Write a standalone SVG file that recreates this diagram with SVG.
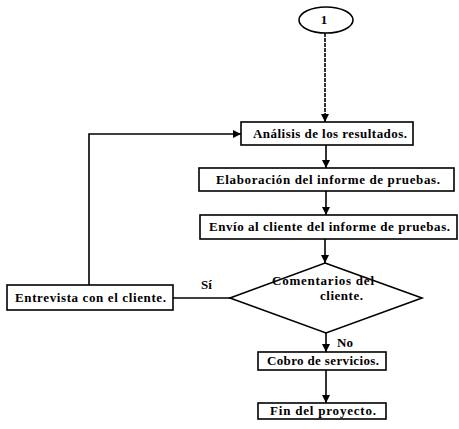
<svg xmlns="http://www.w3.org/2000/svg" width="459" height="429" viewBox="0 0 459 429">
<defs>
<marker id="ah" viewBox="0 0 10 10" refX="10" refY="5" markerWidth="8" markerHeight="8" markerUnits="userSpaceOnUse" orient="auto">
<path d="M0,0 L10,5 L0,10 z" fill="#000"/>
</marker>
</defs>
<style>
.box{fill:#fff;stroke:#000;stroke-width:1.6}
.lbl{font-family:"Liberation Serif","Times New Roman",serif;font-weight:bold;font-size:13px;fill:#000}
.c{stroke:#000;stroke-width:1.6;fill:none}
</style>
<rect width="459" height="429" fill="#fff"/>
<g id="connectors">
<line class="c" x1="325" y1="33" x2="325" y2="122" stroke-dasharray="4,1" marker-end="url(#ah)"/>
<line class="c" x1="326" y1="145" x2="326" y2="168" marker-end="url(#ah)"/>
<line class="c" x1="326" y1="191" x2="326" y2="215" marker-end="url(#ah)"/>
<line class="c" x1="325" y1="239" x2="325" y2="263" marker-end="url(#ah)"/>
<line class="c" x1="326" y1="333" x2="326" y2="352" marker-end="url(#ah)"/>
<line class="c" x1="326" y1="370" x2="326" y2="403" marker-end="url(#ah)"/>
<line class="c" x1="173" y1="298" x2="230" y2="298"/>
<polyline class="c" points="89,285 89,134 241,134" marker-end="url(#ah)"/>
<text class="lbl" x="201" y="289">Sí</text>
<text class="lbl" x="337" y="347">No</text>
</g>
<g id="start">
<ellipse cx="326" cy="20" rx="27" ry="13" fill="#fff" stroke="#000" stroke-width="1.6"/>
<text class="lbl" x="324" y="24" text-anchor="middle">1</text>
</g>
<g id="analisis">
<rect class="box" x="241" y="122" width="172" height="23"/>
<text class="lbl" x="253" y="138" textLength="154">Análisis de los resultados.</text>
</g>
<g id="elaboracion">
<rect class="box" x="199" y="168" width="255" height="23"/>
<text class="lbl" x="216" y="184" textLength="224">Elaboración del informe de pruebas.</text>
</g>
<g id="envio">
<rect class="box" x="200" y="215" width="257" height="24"/>
<text class="lbl" x="209" y="231" textLength="241">Envío al cliente del informe de pruebas.</text>
</g>
<g id="comentarios">
<polygon points="325,263 422,298 326,333 230,298" fill="#fff" stroke="#000" stroke-width="1.6"/>
<text class="lbl" x="272" y="285" textLength="102">Comentarios  del</text>
<text class="lbl" x="320" y="300" textLength="43">cliente.</text>
</g>
<g id="entrevista">
<rect class="box" x="7" y="285" width="166" height="25"/>
<text class="lbl" x="15" y="302" textLength="151">Entrevista con el cliente.</text>
</g>
<g id="cobro">
<rect class="box" x="258" y="352" width="128" height="18"/>
<text class="lbl" x="267" y="365" textLength="112">Cobro de servicios.</text>
</g>
<g id="fin">
<rect class="box" x="258" y="403" width="128" height="16"/>
<text class="lbl" x="270" y="415" textLength="106">Fin del proyecto.</text>
</g>
</svg>
